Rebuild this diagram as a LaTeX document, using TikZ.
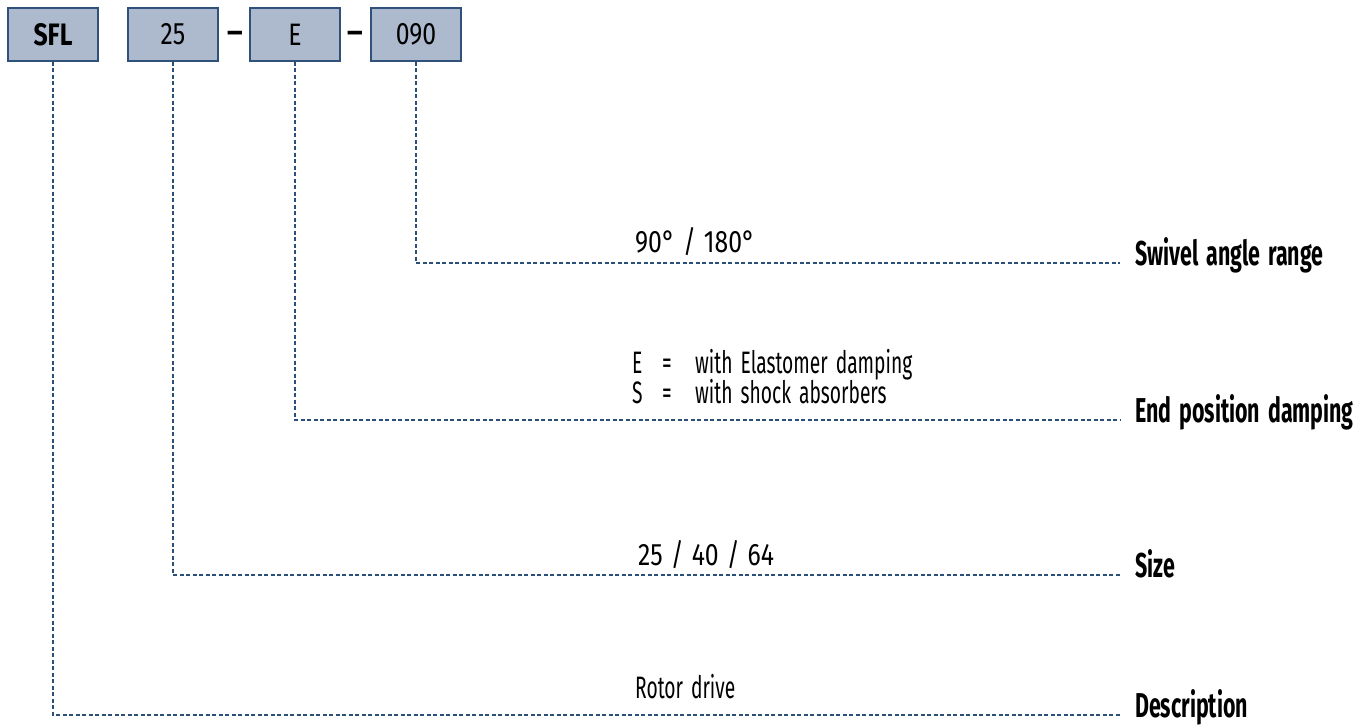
\documentclass[tikz,border=0pt]{standalone}
\usepackage{fontspec}
\setmainfont{Fira Sans}[FakeStretch=0.62]
\newfontfamily\boxfont{Fira Sans}[FakeStretch=0.8]
\newfontfamily\dashfont{Fira Sans}
\definecolor{boxfill}{HTML}{ADB9CC}
\definecolor{boxdraw}{HTML}{30527A}
\definecolor{leadcol}{HTML}{2A4F78}
\newcommand\widesp{\spaceskip=8pt\relax}
\begin{document}
\begin{tikzpicture}[x=1pt,y=-1pt,
  codebox/.style={draw=boxdraw,fill=boxfill,line width=1.2pt,minimum width=90pt,minimum height=53pt,inner sep=0pt,font=\boxfont\fontsize{31}{34}\selectfont},
  sep/.style={inner sep=0pt,anchor=base,font=\dashfont\fontsize{30}{34}\selectfont\bfseries},
  leader/.style={draw=leadcol,line width=1.2pt,dash pattern=on 4pt off 2.5pt},
  lbl/.style={anchor=base west,inner sep=0pt,font=\fontsize{34.5}{38}\selectfont\bfseries,execute at begin node=\widesp},
  val/.style={anchor=base west,inner sep=0pt,font=\fontsize{31}{34}\selectfont,execute at begin node=\widesp},
  numval/.style={val,font=\boxfont\fontsize{31}{34}\selectfont}]
\useasboundingbox (0,0) rectangle (1362,724);
\node[codebox,font=\boxfont\fontsize{31}{34}\selectfont\bfseries] (sfl) at (53,34.5) {SFL};
\node[codebox] (n25) at (173,34.5) {25};
\node[sep] (d1) at (235,42) {–};
\node[codebox] (nE) at (295,34.5) {E};
\node[sep] (d2) at (355,42) {–};
\node[codebox] (n090) at (416,34.5) {090};
% labels
\node[lbl] (l1) at (1135,265) {Swivel angle range};
\node[lbl] (l2) at (1135,422) {End position damping};
\node[lbl] (l3) at (1135,577) {Size};
\node[lbl] (l4) at (1135,717) {Description};
% values
\node[numval] (v1) at (635,252) {90° / 180°};
\node[val] (v2a) at (632,373) {\makebox[30pt][l]{E}\makebox[33pt][l]{=}with Elastomer damping};
\node[val] (v2b) at (632,403) {\makebox[30pt][l]{S}\makebox[33pt][l]{=}with shock absorbers};
\node[numval] (v3) at (638,565) {25 / 40 / 64};
\node[val] (v4) at (635,698) {Rotor drive};
% leader ends
\coordinate (e1) at (1120,263);
\coordinate (e2) at (1120,420);
\coordinate (e3) at (1120,575);
\coordinate (e4) at (1120,715);
\draw[leader] (n090.south) |- (e1);
\draw[leader] (nE.south) |- (e2);
\draw[leader] (n25.south) |- (e3);
\draw[leader] (sfl.south) |- (e4);
\end{tikzpicture}
\end{document}
